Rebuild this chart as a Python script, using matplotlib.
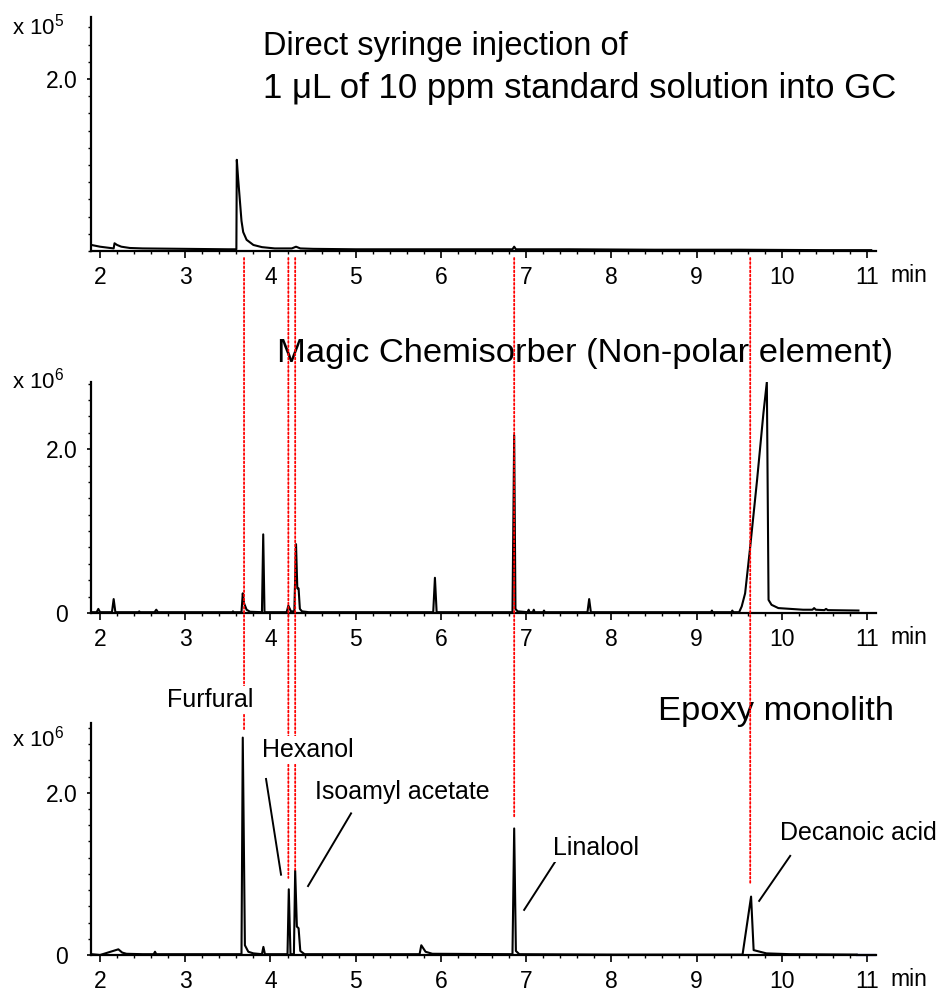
import matplotlib
matplotlib.use('Agg')
import matplotlib.pyplot as plt
from matplotlib.patches import ConnectionPatch
from matplotlib.ticker import MultipleLocator, FixedLocator
import matplotlib.transforms as mtransforms

plt.rcParams['font.family'] = ['Liberation Sans', 'DejaVu Sans']
plt.rcParams['mathtext.fontset'] = 'custom'
plt.rcParams['mathtext.rm'] = 'Liberation Sans'
plt.rcParams['mathtext.it'] = 'Liberation Sans:italic'

# ---------------- data ----------------
x_ticks = [2, 3, 4, 5, 6, 7, 8, 9, 10, 11]
x_tick_labels = ['2', '3', '4', '5', '6', '7', '8', '9', '10', '11']

# Direct injection (x 1e5)
top_time = [1.90, 1.95, 2.00, 2.08, 2.16, 2.17, 2.20, 2.25, 2.35, 2.50, 3.00, 3.50,
            3.600, 3.605, 3.62, 3.64, 3.66, 3.68, 3.72, 3.80, 3.90, 4.05, 4.25, 4.30,
            4.35, 4.50, 5.00, 6.00, 6.84, 6.86, 6.88, 7.50, 8.50, 9.50, 10.50, 11.05]
top_signal = [0.07, 0.06, 0.05, 0.04, 0.03, 0.09, 0.07, 0.05, 0.035, 0.03, 0.025, 0.02,
              0.02, 1.06, 0.85, 0.60, 0.35, 0.22, 0.13, 0.07, 0.045, 0.03, 0.03, 0.05,
              0.03, 0.025, 0.02, 0.02, 0.02, 0.05, 0.02, 0.02, 0.015, 0.015, 0.01, 0.01]

# Magic Chemisorber (x 1e6)
mid_time = [1.90, 1.96, 1.98, 2.00, 2.14, 2.16, 2.18, 2.45, 2.46, 2.47, 2.64, 2.66, 2.68,
            3.55, 3.56, 3.57, 3.66, 3.675, 3.69, 3.72, 3.76, 3.90, 3.915, 3.93,
            4.19, 4.21, 4.24, 4.28, 4.30, 4.315, 4.33, 4.345, 4.37, 4.45,
            5.91, 5.93, 5.95, 6.84, 6.86, 6.875, 6.90, 7.02, 7.03, 7.04, 7.08, 7.09, 7.10,
            7.20, 7.21, 7.22, 7.72, 7.74, 7.76, 8.50, 9.17, 9.18, 9.19, 9.41, 9.42, 9.43,
            9.50, 9.53, 9.57, 9.63, 9.71, 9.785, 9.825, 9.845, 9.88, 9.96, 10.25,
            10.36, 10.38, 10.40, 10.50, 10.52, 10.54, 10.90]
mid_signal = [0.01, 0.01, 0.05, 0.01, 0.01, 0.17, 0.01, 0.01, 0.02, 0.01, 0.01, 0.04, 0.01,
              0.01, 0.02, 0.01, 0.01, 0.24, 0.12, 0.04, 0.015, 0.01, 0.96, 0.01,
              0.01, 0.09, 0.02, 0.02, 0.84, 0.30, 0.30, 0.05, 0.02, 0.01,
              0.01, 0.43, 0.01, 0.01, 2.17, 0.05, 0.02, 0.01, 0.04, 0.01, 0.01, 0.04, 0.01,
              0.01, 0.03, 0.01, 0.01, 0.17, 0.01, 0.01, 0.01, 0.03, 0.01, 0.01, 0.03, 0.01,
              0.01, 0.08, 0.24, 0.81, 1.62, 2.44, 2.82, 0.16, 0.10, 0.06, 0.04,
              0.04, 0.06, 0.04, 0.035, 0.05, 0.035, 0.03]

# Epoxy monolith (x 1e6)
bot_time = [1.90, 2.00, 2.215, 2.26, 2.31, 2.50, 2.63, 2.645, 2.66, 3.00, 3.66, 3.675,
            3.70, 3.74, 3.80, 3.90, 3.917, 3.935, 4.20, 4.215, 4.235, 4.275, 4.29, 4.31,
            4.33, 4.35, 4.40, 5.00, 5.75, 5.77, 5.82, 5.90, 6.84, 6.86, 6.88, 6.92,
            8.00, 9.54, 9.64, 9.67, 9.82, 10.10, 10.88]
bot_signal = [0.01, 0.0, 0.07, 0.03, 0.015, 0.01, 0.01, 0.04, 0.01, 0.01, 0.01, 2.68,
              0.12, 0.04, 0.02, 0.01, 0.10, 0.01, 0.01, 0.81, 0.01, 0.01, 1.04, 0.35,
              0.33, 0.05, 0.01, 0.01, 0.01, 0.12, 0.04, 0.015, 0.01, 1.56, 0.05, 0.01,
              0.005, 0.005, 0.72, 0.06, 0.02, 0.01, 0.005]

compounds = ['Furfural', 'Hexanol', 'Isoamyl acetate', 'Linalool', 'Decanoic acid']
compound_rt = [3.69, 4.21, 4.29, 6.86, 9.63]
guide_end = [2.78, 0.95, 1.05, 1.69, 0.88]

title_top_lines = ['Direct syringe injection of', '1 \u03bcL of 10 ppm standard solution into GC']
title_mid = 'Magic Chemisorber (Non-polar element)'
title_bot = 'Epoxy monolith'
scale_labels = [r'x 10$^{5}$', r'x 10$^{6}$', r'x 10$^{6}$']

# ---------------- layout ----------------
W, H = 938, 992
fig = plt.figure(figsize=(W / 100, H / 100), dpi=100)

def fx(px):
    return px / W

def fy(py):
    return 1 - py / H

def rect(top, bottom, left=91, right=876):
    return [fx(left), fy(bottom), fx(right) - fx(left), (bottom - top) / H]

ax1 = fig.add_axes(rect(17, 251))
ax2 = fig.add_axes(rect(382, 613))
ax3 = fig.add_axes(rect(723, 955))

ylims = [2.72, 2.82, 2.86]
yticks = [[2.0], [0, 2.0], [0, 2.0]]
yticklabels = [['2.0'], ['0', '2.0'], ['0', '2.0']]
traces = [(top_time, top_signal), (mid_time, mid_signal), (bot_time, bot_signal)]

TICK_FS = 16.5
for ax, lim, yt, ytl, (t, s) in zip([ax1, ax2, ax3], ylims, yticks, yticklabels, traces):
    ax.plot(t, s, color='black', lw=1.5, solid_joinstyle='round')
    ax.set_xlim(1.894, 11.106)
    ax.set_ylim(0, lim)
    for sp in ['top', 'right']:
        ax.spines[sp].set_visible(False)
    for sp in ['left', 'bottom']:
        ax.spines[sp].set_linewidth(1.6)
    ax.xaxis.set_major_locator(FixedLocator(x_ticks))
    ax.set_xticklabels(x_tick_labels)
    ax.xaxis.set_minor_locator(MultipleLocator(0.2))
    ax.yaxis.set_major_locator(FixedLocator(yt))
    ax.set_yticklabels(ytl)
    ax.yaxis.set_minor_locator(MultipleLocator(0.2))
    ax.tick_params(axis='x', which='major', direction='out', length=5, width=1.2,
                   labelsize=TICK_FS, pad=6)
    ax.tick_params(axis='x', which='minor', direction='out', length=2.5, width=1.0)
    ax.tick_params(axis='y', which='major', direction='out', length=3, width=1.2,
                   labelsize=TICK_FS, pad=18)
    ax.tick_params(axis='y', which='minor', direction='out', length=2, width=1.0)
    for lab in ax.get_yticklabels():
        lab.set_horizontalalignment('center')
    ax.annotate('min', xy=(11, 0), xycoords=('data', 'axes fraction'),
                xytext=(23, -31), textcoords='offset pixels',
                ha='left', va='baseline', fontsize=TICK_FS)

# navy trailing baseline segment in bottom chromatogram
ax3.plot([10.88, 11.1], [0.005, 0.005], color='#000080', lw=1.6, clip_on=False)

# scale labels
for (py, lab) in zip([35, 388, 747], scale_labels):
    fig.text(fx(12), fy(py), lab, fontsize=16, ha='left', va='baseline')

# titles (below red guide lines)
fig.text(fx(263), fy(55), title_top_lines[0], fontsize=23.5,
         ha='left', va='baseline', zorder=0.5)
fig.text(fx(263), fy(98), title_top_lines[1], fontsize=25,
         ha='left', va='baseline', zorder=0.5)
fig.text(fx(277), fy(362), title_mid, fontsize=24.8, ha='left', va='baseline', zorder=0.5)
fig.text(fx(658), fy(720), title_bot, fontsize=24.8, ha='left', va='baseline', zorder=0.5)

# red dotted guide lines
blend = mtransforms.blended_transform_factory(ax3.transData, fig.transFigure)
for rt, end in zip(compound_rt, guide_end):
    cp = ConnectionPatch(xyA=(rt, fy(258)), coordsA=blend,
                         xyB=(rt, end), coordsB=ax3.transData,
                         color='red', lw=1.3, linestyle=(0, (1, 1.3)), zorder=1)
    fig.add_artist(cp)

# compound labels (white background hides guide lines)
label_pos = [(167, 707), (262, 757), (315, 799), (553, 855), (780, 840)]
for name, (px, py) in zip(compounds, label_pos):
    fig.text(fx(px), fy(py), name, fontsize=18, ha='left', va='baseline', zorder=3,
             bbox=dict(facecolor='white', edgecolor='none', pad=1.5))

# leader lines (data coords of bottom axes)
leaders = [((3.948, 2.17), (4.124, 0.99)),
           ((4.946, 1.746), (4.441, 0.85)),
           ((7.34, 1.148), (6.977, 0.556)),
           ((10.099, 1.222), (9.735, 0.667))]
for (a, b) in leaders:
    ax3.plot([a[0], b[0]], [a[1], b[1]], color='black', lw=1.4, clip_on=False)

fig.savefig('out.png', dpi=100)
